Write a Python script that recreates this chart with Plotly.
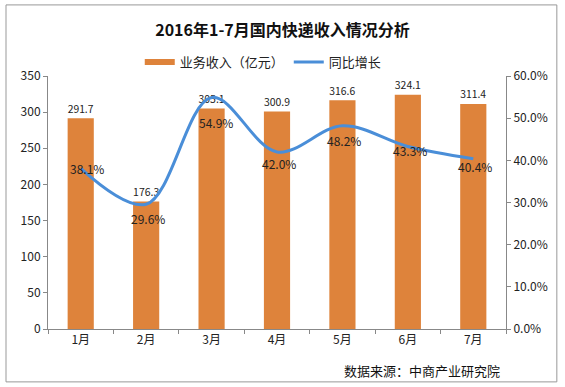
import plotly.graph_objects as go

months = ["1月", "2月", "3月", "4月", "5月", "6月", "7月"]
revenue = [291.7, 176.3, 305.1, 300.9, 316.6, 324.1, 311.4]
growth = [0.381, 0.296, 0.549, 0.420, 0.482, 0.433, 0.404]
growth_labels = ["38.1%", "29.6%", "54.9%", "42.0%", "48.2%", "43.3%", "40.4%"]

# pixel offsets of the line's data labels (style only)
label_dy = [0, -14, -25, -12, -15, -4, -8]
label_dx = [6, 2, 4, 2, 2, 2, 2]

FONT = "Noto Sans CJK SC"
ORANGE = "#DE833B"
BLUE = "#4A8ED8"
fig = go.Figure()
fig.add_trace(go.Bar(
    x=months, y=revenue, name="业务收入（亿元）", showlegend=False,
    marker=dict(color=ORANGE, line=dict(width=0)),
    width=0.4, text=[f"{v:.1f}" for v in revenue], textposition="outside",
    textfont=dict(size=12, color="#222"), cliponaxis=False,
))
fig.add_trace(go.Scatter(
    x=[None], y=[None], name="业务收入（亿元）", mode="lines",
    line=dict(color=ORANGE, width=6), hoverinfo="skip",
))
fig.add_trace(go.Scatter(
    x=months, y=growth, name="同比增长", yaxis="y2",
    mode="lines", line=dict(color=BLUE, width=3, shape="spline", smoothing=1),
))
annotations = []
for m, g, t, dy, dx in zip(months, growth, growth_labels, label_dy, label_dx):
    annotations.append(dict(x=m, y=g, xref="x", yref="y2", text=t, showarrow=False,
                            xanchor="center", yanchor="middle", yshift=dy, xshift=dx,
                            font=dict(size=12, color="#222")))
annotations.append(dict(text="数据来源：中商产业研究院", xref="paper", yref="paper",
                        x=(502 - 48) / 458, y=(329 - 370) / 253, xanchor="right",
                        yanchor="middle", showarrow=False, font=dict(size=13, color="#111")))

axis_col = "#888888"
fig.update_layout(
    width=565, height=387,
    margin=dict(l=48, r=59, t=76, b=58),
    paper_bgcolor="white", plot_bgcolor="white",
    font=dict(family=FONT, size=11, color="#222"),
    title=dict(text="<b>2016年1-7月国内快递收入情况分析</b>", x=0.5, xanchor="center",
               y=1 - 30 / 387, yanchor="middle", font=dict(size=16, color="#111")),
    showlegend=True,
    legend=dict(orientation="h", x=0.47, xanchor="center", y=1.055, yanchor="middle",
                font=dict(size=13), bgcolor="rgba(0,0,0,0)", itemwidth=30),
    bargap=0.6,
    xaxis=dict(type="category", showline=True, linecolor=axis_col, linewidth=1,
               ticks="outside", tickson="boundaries", ticklen=4, tickcolor=axis_col,
               showgrid=False, tickfont=dict(size=12)),
    yaxis=dict(range=[0, 350], dtick=50, showline=True, linecolor=axis_col, linewidth=1,
               ticks="outside", ticklen=4, tickcolor=axis_col, showgrid=False,
               zeroline=False, tickfont=dict(size=12)),
    yaxis2=dict(range=[0, 0.6], dtick=0.1, tickformat=".1%", overlaying="y", side="right",
                showline=True, linecolor=axis_col, linewidth=1, ticks="outside", ticklen=4,
                tickcolor=axis_col, showgrid=False, zeroline=False, tickfont=dict(size=12)),
    shapes=[dict(type="rect", xref="paper", yref="paper", x0=-0.0917, x1=1.111,
                 y0=-0.209, y1=1.281, line=dict(color="#999999", width=1), layer="below")],
    annotations=annotations,
)
fig.write_html("out.html", config={"displayModeBar": False},
               post_script="document.body.style.margin='0';document.body.style.overflow='hidden';")
